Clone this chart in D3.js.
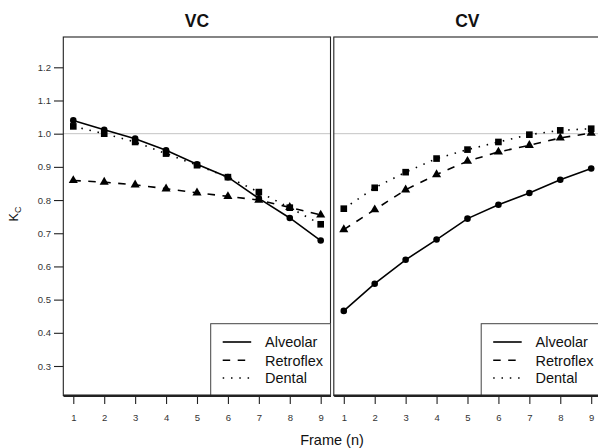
<!DOCTYPE html>
<html>
<head>
<meta charset="utf-8">
<script src="https://cdn.jsdelivr.net/npm/d3@7"></script>
<style>
  body { margin: 0; background: #fff; }
  svg { display: block; font-family: "Liberation Sans", Arial, sans-serif; }
</style>
</head>
<body>
<svg id="chart" width="598" height="448"></svg>
<script>
const frames = [1, 2, 3, 4, 5, 6, 7, 8, 9];
const yTicks = [0.3, 0.4, 0.5, 0.6, 0.7, 0.8, 0.9, 1.0, 1.1, 1.2];
const seriesNames = ["Alveolar", "Retroflex", "Dental"];
const panelNames = ["VC", "CV"];

const vcAlveolar  = [1.040, 1.012, 0.985, 0.950, 0.908, 0.869, 0.805, 0.746, 0.678];
const vcRetroflex = [0.859, 0.854, 0.846, 0.834, 0.822, 0.811, 0.800, 0.778, 0.755];
const vcDental    = [1.022, 1.000, 0.975, 0.940, 0.905, 0.869, 0.824, 0.777, 0.727];

const cvAlveolar  = [0.466, 0.548, 0.620, 0.681, 0.744, 0.786, 0.821, 0.861, 0.895];
const cvRetroflex = [0.711, 0.771, 0.831, 0.877, 0.917, 0.945, 0.965, 0.987, 1.002];
const cvDental    = [0.774, 0.837, 0.884, 0.925, 0.952, 0.975, 0.997, 1.010, 1.015];

const panelData = [
  [vcAlveolar, vcRetroflex, vcDental],
  [cvAlveolar, cvRetroflex, cvDental]
];

// line styles / markers per series
const dashes = [null, "7.5,7.5", "1.5,6.8"];
const symbols = [d3.symbolCircle, d3.symbolTriangle, d3.symbolSquare];
const symSizes = [34, 36, 44];

const svg = d3.select("#chart");
const plotTop = 37, plotBottom = 395.5;
const panels = [[63.3, 330.5], [333.8, 601]];

const y = d3.scaleLinear().domain([0.2111, 1.2913]).range([plotBottom, plotTop]);

panels.forEach((px, pi) => {
  const x = d3.scaleLinear().domain([0.677, 9.317]).range(px);
  const g = svg.append("g");

  // reference line at 1.0
  g.append("line")
    .attr("x1", px[0]).attr("x2", px[1])
    .attr("y1", y(1)).attr("y2", y(1))
    .attr("stroke", "#c4c4c4").attr("stroke-width", 1);

  // frame
  g.append("rect")
    .attr("x", px[0]).attr("y", plotTop)
    .attr("width", px[1] - px[0]).attr("height", plotBottom - plotTop)
    .attr("fill", "none").attr("stroke", "#222").attr("stroke-width", 1.1);

  // x axis
  const xa = g.append("g")
    .attr("transform", `translate(0,${plotBottom})`)
    .call(d3.axisBottom(x).tickValues(frames).tickSize(8.5).tickSizeOuter(0).tickPadding(10.5));
  xa.select(".domain").attr("stroke", "#222").attr("stroke-width", 1.8);
  xa.selectAll(".tick line").attr("stroke", "#222").attr("stroke-width", 1.1);
  xa.selectAll("text").attr("font-size", 9.5).attr("fill", "#333")
    .attr("font-family", "Liberation Sans, Arial, sans-serif");

  if (pi === 0) {
    const ya = g.append("g")
      .attr("transform", `translate(${px[0]},0)`)
      .call(d3.axisLeft(y).tickValues(yTicks).tickFormat(d3.format(".1f"))
        .tickSize(9.3).tickSizeOuter(0).tickPadding(3));
    ya.select(".domain").remove();
    ya.selectAll(".tick line").attr("stroke", "#222").attr("stroke-width", 1.1);
    ya.selectAll("text").attr("font-size", 9.5).attr("fill", "#333")
      .attr("font-family", "Liberation Sans, Arial, sans-serif");
  }

  // panel title
  svg.append("text")
    .attr("x", (px[0] + px[1]) / 2).attr("y", 26.7)
    .attr("text-anchor", "middle")
    .attr("font-size", 17.5).attr("font-weight", "bold").attr("fill", "#111")
    .text(panelNames[pi]);

  const line = d3.line().x((d, i) => x(frames[i])).y(d => y(d));

  panelData[pi].forEach((vals, si) => {
    g.append("path")
      .attr("d", line(vals))
      .attr("fill", "none").attr("stroke", "#000").attr("stroke-width", 1.6)
      .attr("stroke-dasharray", dashes[si]);
    g.selectAll(null)
      .data(vals)
      .enter()
      .append("path")
      .attr("transform", (d, i) => `translate(${x(frames[i])},${y(d)})`)
      .attr("d", d3.symbol().type(symbols[si]).size(symSizes[si]))
      .attr("fill", "#000");
  });

  // legend
  const lx = px[1] - 119.8, ly = 323.7;
  g.append("rect")
    .attr("x", lx).attr("y", ly)
    .attr("width", px[1] - lx).attr("height", plotBottom - ly)
    .attr("fill", "#fff").attr("stroke", "#444").attr("stroke-width", 1);
  const rows = [342, 360.3, 378];
  seriesNames.forEach((name, si) => {
    g.append("line")
      .attr("x1", lx + 12).attr("x2", lx + 40.5)
      .attr("y1", rows[si]).attr("y2", rows[si])
      .attr("stroke", "#000").attr("stroke-width", 1.6)
      .attr("stroke-dasharray", dashes[si]);
    g.append("text")
      .attr("x", lx + 54.3).attr("y", rows[si] + 5.2)
      .attr("font-size", 14.5).attr("fill", "#111")
      .text(name);
  });
  // redraw bottom axis line over legend box
  g.append("line")
    .attr("x1", px[0]).attr("x2", px[1])
    .attr("y1", plotBottom).attr("y2", plotBottom)
    .attr("stroke", "#222").attr("stroke-width", 1.8);
});

// axis titles
svg.append("text")
  .attr("x", 332).attr("y", 445.3)
  .attr("text-anchor", "middle")
  .attr("font-size", 14.5).attr("fill", "#111")
  .text("Frame (n)");

const yl = svg.append("text")
  .attr("transform", "translate(18.3,214) rotate(-90)")
  .attr("text-anchor", "middle")
  .attr("font-size", 12.5).attr("fill", "#111");
yl.append("tspan").text("K");
yl.append("tspan").attr("font-size", 9).attr("dy", 3).text("C");
</script>
</body>
</html>
